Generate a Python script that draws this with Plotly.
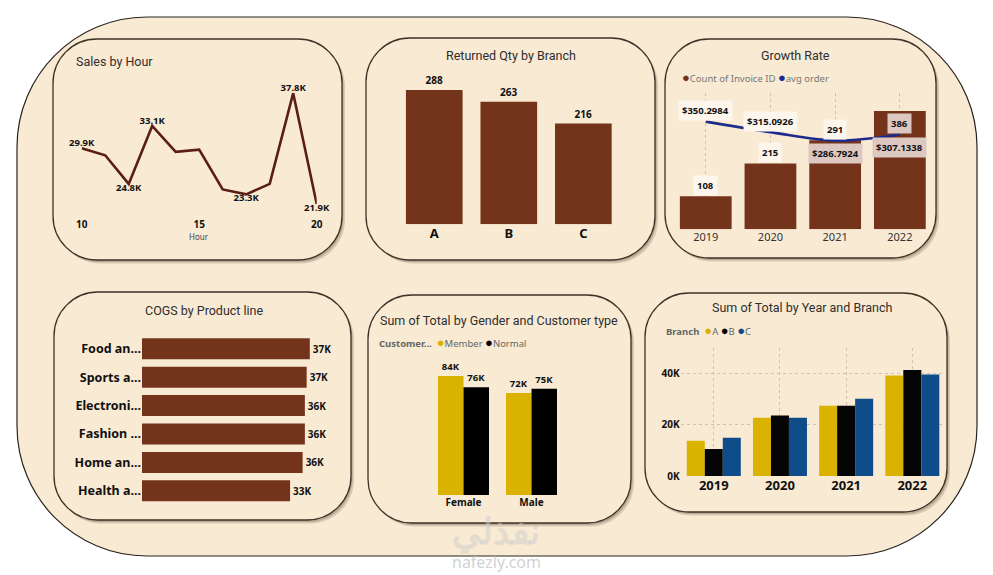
import plotly.graph_objects as go

W, H = 993, 575
PAGE_OFFSET = 8  # the page puts the figure 8px in from the top-left

# ---- data ----
hours = list(range(10, 21))
sales_by_hour = [29900, 28900, 24800, 33100, 29400, 29700, 24000, 23300, 24800, 37800, 21900]
hour_label_pos = {10: 'top center', 12: 'bottom center', 13: 'top center',
                  17: 'bottom center', 19: 'top center', 20: 'bottom center'}

branches = ['A', 'B', 'C']
returned_qty = [288, 263, 216]

years = ['2019', '2020', '2021', '2022']
invoice_count = [108, 215, 291, 386]
avg_order = [350.2984, 315.0926, 286.7924, 307.1338]
count_label_inside = [False, False, False, True]
avg_label_below = [False, False, True, True]

product_lines = ['Food and beverages', 'Sports and travel', 'Electronic accessories',
                 'Fashion accessories', 'Home and lifestyle', 'Health and beauty']
product_tick_labels = ['Food an...', 'Sports a...', 'Electroni...', 'Fashion ...', 'Home an...', 'Health a...']
cogs = [37400, 36700, 36300, 36300, 35800, 33000]

genders = ['Female', 'Male']
total_member = [84000, 72000]
total_normal = [76000, 75000]

total_branch_a = [13750, 22700, 27300, 39100]
total_branch_b = [10500, 23500, 27300, 41300]
total_branch_c = [14900, 22700, 30100, 39500]

# ---- styles ----
CREAM = '#F9EAD3'
BROWN = '#73341B'
LINE_BROWN = '#5A1E14'
NAVY = '#1C2A8C'
GOLD = '#DAB200'
BLUE = '#0E4C8A'
TITLE_FONT = 'Roboto'
LABEL_FONT = 'Noto Sans'


def fx(x):
    return (x - PAGE_OFFSET) / W


def fy(y):
    return 1 - (y - PAGE_OFFSET) / H


def rounded_path(x0, y0, x1, y1, r):
    k = 0.5523 * r
    pts = [
        ('M', [(x0 + r, y0)]),
        ('L', [(x1 - r, y0)]),
        ('C', [(x1 - r + k, y0), (x1, y0 + r - k), (x1, y0 + r)]),
        ('L', [(x1, y1 - r)]),
        ('C', [(x1, y1 - r + k), (x1 - r + k, y1), (x1 - r, y1)]),
        ('L', [(x0 + r, y1)]),
        ('C', [(x0 + r - k, y1), (x0, y1 - r + k), (x0, y1 - r)]),
        ('L', [(x0, y0 + r)]),
        ('C', [(x0, y0 + r - k), (x0 + r - k, y0), (x0 + r, y0)]),
    ]
    s = ''
    for cmd, ps in pts:
        s += cmd + ' ' + ' '.join(f'{fx(a):.5f},{fy(b):.5f}' for a, b in ps) + ' '
    return s + 'Z'


shapes = []
# outer canvas
shapes.append(dict(type='path', xref='paper', yref='paper', layer='below',
                   path=rounded_path(17, 17, 977, 556, 130),
                   fillcolor=CREAM, line=dict(color='#2a2420', width=1.2)))

panels = [
    (53, 39, 342, 260),
    (366, 38, 655, 260),
    (665, 39, 936, 258),
    (54, 292, 351, 520),
    (368, 295, 631, 523),
    (645, 293, 947, 512),
]
for x0, y0, x1, y1 in panels:
    shapes.append(dict(type='path', xref='paper', yref='paper', layer='below',
                       path=rounded_path(x0 + 3, y0 + 3.5, x1 + 3, y1 + 3.5, 44),
                       fillcolor='rgba(70,50,30,0.18)', line=dict(width=0)))
    shapes.append(dict(type='path', xref='paper', yref='paper', layer='below',
                       path=rounded_path(x0 + 1.5, y0 + 2, x1 + 1.5, y1 + 2, 44),
                       fillcolor='rgba(70,50,30,0.22)', line=dict(width=0)))
    shapes.append(dict(type='path', xref='paper', yref='paper', layer='below',
                       path=rounded_path(x0, y0, x1, y1, 44),
                       fillcolor=CREAM, line=dict(color='#3d3228', width=1.3)))

fig = go.Figure()

# 1. Sales by Hour
sales_text = [f'{v / 1000:.1f}K' if h in hour_label_pos else '' for h, v in zip(hours, sales_by_hour)]
sales_pos = [hour_label_pos.get(h, 'top center') for h in hours]
fig.add_trace(go.Scatter(
    x=hours, y=sales_by_hour, mode='lines+text', text=sales_text, textposition=sales_pos,
    line=dict(color=LINE_BROWN, width=2.6), cliponaxis=False,
    textfont=dict(family=LABEL_FONT, size=9.5, color='#111', weight='bold'),
    xaxis='x', yaxis='y', showlegend=False,
))

# 2. Returned Qty by Branch
fig.add_trace(go.Bar(
    x=branches, y=returned_qty, width=0.76, marker_color=BROWN,
    text=[str(v) for v in returned_qty], textposition='outside', cliponaxis=False,
    textfont=dict(family=LABEL_FONT, size=10, color='#111', weight='bold'),
    xaxis='x2', yaxis='y2', showlegend=False,
))

# 3. Growth Rate
fig.add_trace(go.Bar(
    x=years, y=invoice_count, width=0.8, marker_color=BROWN,
    xaxis='x3', yaxis='y3', showlegend=False,
))
fig.add_trace(go.Scatter(
    x=years, y=avg_order, mode='lines', line=dict(color=NAVY, width=2.6, shape='spline'),
    xaxis='x3', yaxis='y4', showlegend=False,
))

# 4. COGS by Product line
fig.add_trace(go.Bar(
    y=product_tick_labels, x=cogs, orientation='h', width=0.74, marker_color=BROWN,
    text=[f'{v / 1000:.0f}K' for v in cogs], textposition='outside', cliponaxis=False,
    textfont=dict(family=LABEL_FONT, size=10, color='#111', weight='bold'),
    hovertext=product_lines,
    xaxis='x5', yaxis='y5', showlegend=False,
))

# 5. Sum of Total by Gender and Customer type
fig.add_trace(go.Bar(
    x=genders, y=total_member, width=0.375, offset=-0.375, marker_color=GOLD,
    text=[f'{v / 1000:.0f}K' for v in total_member], textposition='outside', cliponaxis=False,
    textfont=dict(family=LABEL_FONT, size=9.5, color='#111', weight='bold'),
    xaxis='x6', yaxis='y6', showlegend=False,
))
fig.add_trace(go.Bar(
    x=genders, y=total_normal, width=0.375, offset=0, marker_color='#000000',
    text=[f'{v / 1000:.0f}K' for v in total_normal], textposition='outside', cliponaxis=False,
    textfont=dict(family=LABEL_FONT, size=9.5, color='#111', weight='bold'),
    xaxis='x6', yaxis='y6', showlegend=False,
))

# 6. Sum of Total by Year and Branch
for vals, col, off in [(total_branch_a, GOLD, -0.408), (total_branch_b, '#050505', -0.136),
                       (total_branch_c, BLUE, 0.136)]:
    fig.add_trace(go.Bar(
        x=years, y=vals, width=0.272, offset=off, marker_color=col,
        xaxis='x7', yaxis='y7', showlegend=False,
    ))

hidden = dict(showgrid=False, zeroline=False, showline=False, ticks='', showticklabels=False,
              automargin=False)
plain = dict(zeroline=False, showline=False, ticks='', automargin=False)
grid_dot = dict(showgrid=True, gridcolor='#cdc3b3', griddash='dot', gridwidth=1)

fig.update_layout(
    template='none',
    width=W, height=H, autosize=False,
    margin=dict(l=0, r=0, t=0, b=0, pad=0),
    paper_bgcolor='white', plot_bgcolor='rgba(0,0,0,0)',
    barmode='group', shapes=shapes,
    font=dict(family=LABEL_FONT),
    xaxis=dict(domain=[fx(81.7), fx(316.7)], anchor='y', range=[10, 20], tickvals=[10, 15, 20],
               showgrid=False, **plain,
               tickfont=dict(family=LABEL_FONT, size=10, color='#111', weight='bold')),
    yaxis=dict(domain=[fy(217), fy(80)], anchor='x', range=[20050, 39690], **hidden),
    xaxis2=dict(domain=[fx(397), fx(620.6)], anchor='y2', type='category', range=[-0.5, 2.5],
                showgrid=False, **plain,
                tickfont=dict(family=LABEL_FONT, size=13, color='#111', weight='bold')),
    yaxis2=dict(domain=[fy(224.3), fy(70)], anchor='x2', range=[0, 331], **hidden),
    xaxis3=dict(domain=[fx(673.4), fx(932.2)], anchor='y3', type='category', range=[-0.5, 3.5], **plain,
                tickfont=dict(family=LABEL_FONT, size=11, color='#333'), **grid_dot),
    yaxis3=dict(domain=[fy(229.3), fy(93)], anchor='x3', range=[0, 445], **hidden),
    yaxis4=dict(overlaying='y3', anchor='x3', side='right', range=[-10, 446], **hidden),
    xaxis5=dict(domain=[fx(142), fx(330)], anchor='y5', range=[0, 41900], **hidden),
    yaxis5=dict(domain=[fy(505), fy(334.6)], anchor='x5', type='category', range=[5.5, -0.5],
                showgrid=False, **plain,
                tickfont=dict(family=LABEL_FONT, size=12.5, color='#111', weight='bold')),
    xaxis6=dict(domain=[fx(429.5), fx(565.5)], anchor='y6', type='category', range=[-0.5, 1.5],
                showgrid=False, **plain,
                tickfont=dict(family=LABEL_FONT, size=10, color='#111', weight='bold')),
    yaxis6=dict(domain=[fy(495), fy(355)], anchor='x6', range=[0, 98800], **hidden),
    xaxis7=dict(domain=[fx(680.7), fx(945.4)], anchor='y7', type='category', range=[-0.5, 3.5], **plain,
                tickfont=dict(family=LABEL_FONT, size=13, color='#111', weight='bold'), **grid_dot),
    yaxis7=dict(domain=[fy(476), fy(348.3)], anchor='x7', range=[0, 49700], tickvals=[0, 20000, 40000],
                ticktext=['0K', '20K', '40K'], ticks='', showline=False, automargin=False,
                zeroline=True, zerolinecolor='rgba(0,0,0,0)',
                tickfont=dict(family=LABEL_FONT, size=10, color='#111', weight='bold'), **grid_dot),
)

ann = []


def note(text, x, y, size, color, family=LABEL_FONT, anchor='center'):
    ann.append(dict(text=text, x=fx(x), y=fy(y), xref='paper', yref='paper', showarrow=False,
                    xanchor=anchor, yanchor='middle',
                    font=dict(family=family, size=size, color=color)))


def title(text, x, y, anchor='center'):
    note(text, x, y, 12.5, '#2e2e2e', family=TITLE_FONT, anchor=anchor)


def dot(color):
    return f'<span style="color:{color};font-size:13px">●</span>'


title('Sales by Hour', 74, 61.7, anchor='left')
title('Returned Qty by Branch', 511, 55.7)
title('Growth Rate', 795, 55.7)
title('COGS by Product line', 204, 310.7)
title('Sum of Total by Gender and Customer type', 499, 320)
title('Sum of Total by Year and Branch', 801.7, 307.3)

note('Hour', 199, 236.7, 8, '#444')

# legends
note(f'{dot(BROWN)}Count of Invoice ID {dot(NAVY)}avg order', 680, 77.3, 9.5, '#777', anchor='left')
note(f'<b>Customer...</b>  {dot(GOLD)}Member {dot("#000")}Normal', 377, 341.7, 9.5, '#666', anchor='left')
note(f'<b>Branch</b>  {dot(GOLD)}A {dot("#000")}B {dot(BLUE)}C', 664, 330, 9.5, '#666', anchor='left')

# growth-rate data labels (category index as x position)
for i, (c, inside) in enumerate(zip(invoice_count, count_label_inside)):
    ann.append(dict(text=f'<b>{c}</b>', x=i, y=c, xref='x3', yref='y3', showarrow=False,
                    yshift=-12 if inside else 11, bgcolor='#DCC8C1' if inside else '#FDF6EC',
                    borderpad=3, font=dict(family=LABEL_FONT, size=9.5, color='#111')))
for i, (a, below) in enumerate(zip(avg_order, avg_label_below)):
    ann.append(dict(text=f'<b>${a:.4f}</b>', x=i, y=a, xref='x3', yref='y4', showarrow=False,
                    yshift=-13 if below else 11, bgcolor='#DCC8C1' if below else '#FDF6EC',
                    borderpad=3, font=dict(family=LABEL_FONT, size=9.5, color='#111')))

# watermark
note('<b>نفذلي</b>', 496, 530, 36, 'rgba(205,205,205,0.5)')
note('nafezly.com', 496, 562, 16, 'rgba(195,195,195,0.75)')

fig.update_layout(annotations=ann)

fig.write_html('out.html')
